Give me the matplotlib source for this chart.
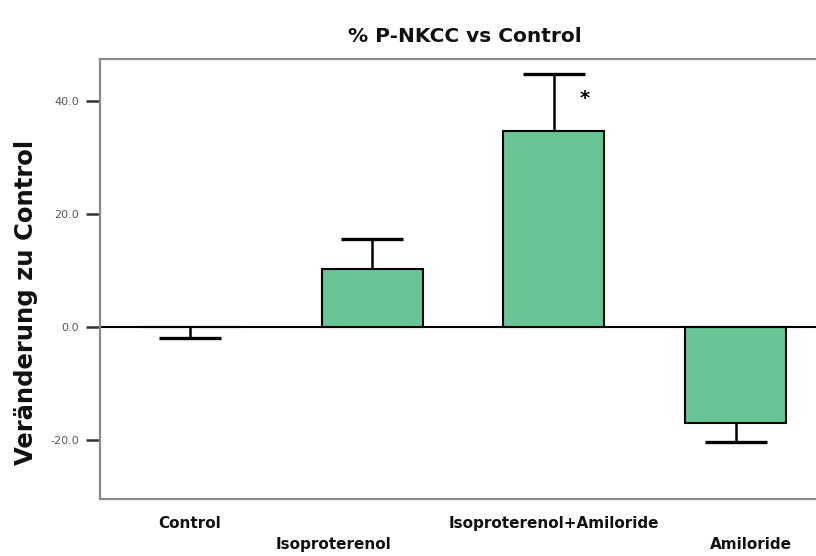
import matplotlib
matplotlib.use("Agg")
import matplotlib.pyplot as plt
from matplotlib.transforms import ScaledTranslation

# Data
categories = ["Control", "Isoproterenol", "Isoproterenol+Amiloride", "Amiloride"]
means = [0.0, 10.3, 34.6, -17.0]
errors = [2.0, 5.3, 10.2, 3.4]
yticks = [-20.0, 0.0, 20.0, 40.0]
significant = [False, False, True, False]

bar_color = "#68c596"

fig = plt.figure(figsize=(8.16, 5.56), dpi=100)
ax = fig.add_axes([100 / 816, 57 / 556, 726 / 816, 440 / 556])

x = list(range(len(categories)))
ax.axhline(0, color="black", lw=1.5, zorder=1)
ax.bar(x, means, width=0.555, color=bar_color, edgecolor="black",
       linewidth=1.5, zorder=2)

# one-sided error bars pointing away from zero
lower = [e if m <= 0 else 0 for m, e in zip(means, errors)]
upper = [e if m > 0 else 0 for m, e in zip(means, errors)]
ax.errorbar(x, means, yerr=[lower, upper], fmt="none", ecolor="black",
            elinewidth=1.8, capsize=0, zorder=3)
ends = [m + u - l for m, l, u in zip(means, lower, upper)]
ax.plot(x, ends, linestyle="none", marker="_", markersize=44,
        markeredgewidth=2.4, color="black", zorder=3)

for xi, m, e, s in zip(x, means, errors, significant):
    if s:
        ax.annotate("*", xy=(xi, m), xytext=(22, 24), textcoords="offset points",
                    ha="center", va="center", fontsize=14, fontweight="bold",
                    family="DejaVu Sans")

ax.set_xlim(-0.495, 3.495)
ax.set_ylim(-30.4, 47.4)

ax.set_yticks(yticks)
ax.set_yticklabels([f"{v:.1f}" for v in yticks], fontsize=8, color="#555555",
                   family="DejaVu Sans")
ax.tick_params(axis="y", direction="out", length=10, width=1.8,
               color="#333333", pad=5)

# staggered category labels
ax.set_xticks(x)
ax.set_xticklabels([c if i % 2 == 0 else "\n" + c for i, c in enumerate(categories)],
                   fontsize=11, fontweight="bold", family="DejaVu Sans",
                   color="#111111", linespacing=1.55)
ax.tick_params(axis="x", length=0, pad=12)
shifts = [0, -39, 0, 15]
for lab, dx in zip(ax.get_xticklabels(), shifts):
    lab.set_transform(lab.get_transform() + ScaledTranslation(dx / 100, 0, fig.dpi_scale_trans))

for side in ["left", "bottom", "top", "right"]:
    ax.spines[side].set_color("#8a8a8a")
    ax.spines[side].set_linewidth(1.6)

fig.text(465 / 816, (556 - 37) / 556, "% P-NKCC vs Control", ha="center",
         va="center", fontsize=14.5, fontweight="bold", family="DejaVu Sans",
         color="#111111")
fig.text(26 / 816, (556 - 302) / 556, "Veränderung zu Control", rotation=90,
         ha="center", va="center", fontsize=17.5, fontweight="bold",
         family="DejaVu Sans", color="#111111")

fig.savefig("out.png", dpi=100, facecolor="white")
